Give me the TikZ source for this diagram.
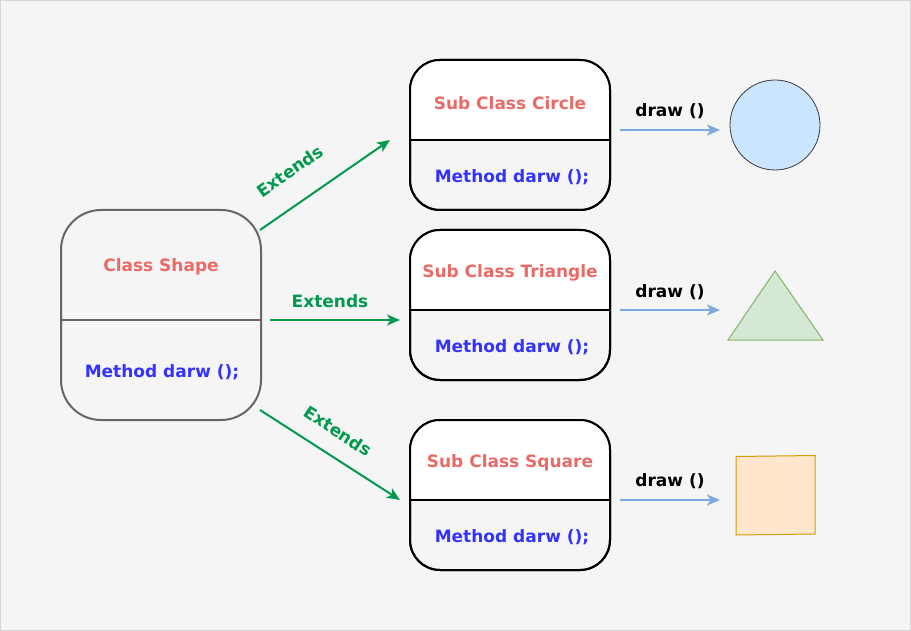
\documentclass[tikz,border=0pt]{standalone}
\usepackage{fontspec}
\setmainfont{DejaVu Sans}
\usetikzlibrary{arrows.meta}
\definecolor{bg}{HTML}{F5F5F5}
\definecolor{bgline}{HTML}{D6D6D6}
\definecolor{titlered}{HTML}{EA6B66}
\definecolor{methblue}{HTML}{3333FF}
\definecolor{extgreen}{HTML}{00994D}
\definecolor{drawblue}{HTML}{7EA6E0}
\definecolor{circfill}{HTML}{CCE5FF}
\definecolor{circline}{HTML}{36393D}
\definecolor{trifill}{HTML}{D5E8D4}
\definecolor{triline}{HTML}{82B366}
\definecolor{sqfill}{HTML}{FFE6CC}
\definecolor{sqline}{HTML}{D79B00}
\tikzset{
  mainbox/.style={rectangle, draw=black!60, line width=2pt, rounded corners=40pt, minimum width=200pt, minimum height=210pt, inner sep=0pt, outer sep=0pt},
  subbox/.style={rectangle, draw=black, line width=2pt, rounded corners=30pt, minimum width=200pt, minimum height=150pt, inner sep=0pt, outer sep=0pt},
  titletext/.style={font=\fontsize{17}{20}\selectfont\bfseries, text=titlered},
  methtext/.style={font=\fontsize{17}{20}\selectfont\bfseries, text=methblue},
  exttext/.style={font=\fontsize{17}{20}\selectfont\bfseries, text=extgreen, inner sep=1pt},
  drawtext/.style={font=\fontsize{17}{20}\selectfont\bfseries, text=black},
  extarrow/.style={draw=extgreen, line width=2pt, -{Stealth[length=13pt,width=11pt,inset=3.5pt]}},
  drawarrow/.style={draw=drawblue, line width=2pt, -{Stealth[length=13pt,width=11pt,inset=3.5pt]}},
}
\begin{document}
\begin{tikzpicture}[x=1pt,y=-1pt]
\useasboundingbox (0,0) rectangle (911,631);
\fill[bg, draw=bgline, line width=1pt] (0.5,0.5) rectangle (910.5,630.5);

% main class box
\node[mainbox] (shape) at (161,315) {};
\draw[black!60, line width=2pt] (61,320) coordinate (sdl) -- (261,320) coordinate (sdr);
\node[titletext] (shapet) at (161,267) {Class Shape};
\node[methtext] (shapem) at (162,372) {Method darw ();};

% sub boxes
\foreach \nm/\cy/\dy/\tt in {circ/135/140/Sub Class Circle, tri/305/310/Sub Class Triangle, sq/495/500/Sub Class Square}{
  \node[subbox] (\nm) at (510,\cy) {};
  \begin{scope}
    \clip[rounded corners=30pt] (\nm.south west) rectangle (\nm.north east);
    \fill[white] (\nm.north west) rectangle (610,\dy);
  \end{scope}
  \draw[line width=2pt, rounded corners=30pt] (\nm.south west) rectangle (\nm.north east);
  \draw[line width=2pt] (410,\dy) -- (610,\dy);
  \node[titletext] (\nm t) at (510,\cy-32) {\tt};
  \node[methtext] (\nm m) at (512,\cy+42) {Method darw ();};
}

% extends arrows
\coordinate (e1s) at (260,230); \coordinate (e1t) at (390,140);
\coordinate (e2s) at (270,320); \coordinate (e2t) at (400,320);
\coordinate (e3s) at (260,410); \coordinate (e3t) at (400,500);
\draw[extarrow] (e1s) -- (e1t);
\draw[extarrow] (e2s) -- (e2t);
\draw[extarrow] (e3s) -- (e3t);
\node[exttext, rotate=34.7] (x1) at (290,171) {Extends};
\node[exttext] (x2) at (330,301) {Extends};
\node[exttext, rotate=-33] (x3) at (338,431) {Extends};

% draw arrows
\coordinate (d1s) at (620,130); \coordinate (d1t) at (720,130);
\coordinate (d2s) at (620,310); \coordinate (d2t) at (720,310);
\coordinate (d3s) at (620,500); \coordinate (d3t) at (720,500);
\draw[drawarrow] (d1s) -- (d1t);
\draw[drawarrow] (d2s) -- (d2t);
\draw[drawarrow] (d3s) -- (d3t);
\node[drawtext] (l1) at (670,111) {draw ()};
\node[drawtext] (l2) at (670,292) {draw ()};
\node[drawtext] (l3) at (670,481) {draw ()};

% shapes
\node[circle, fill=circfill, draw=circline, line width=0.8pt, minimum size=90pt, inner sep=0pt] (circshape) at (775,125) {};
\draw[fill=trifill, draw=triline, line width=1pt] (728,340) -- (775,271) -- (823,340) -- cycle;
\draw[fill=sqfill, draw=sqline, line width=1pt] (736,456.5) -- (815,455.5) -- (815,534) -- (736,535) -- cycle;
\end{tikzpicture}
\end{document}
